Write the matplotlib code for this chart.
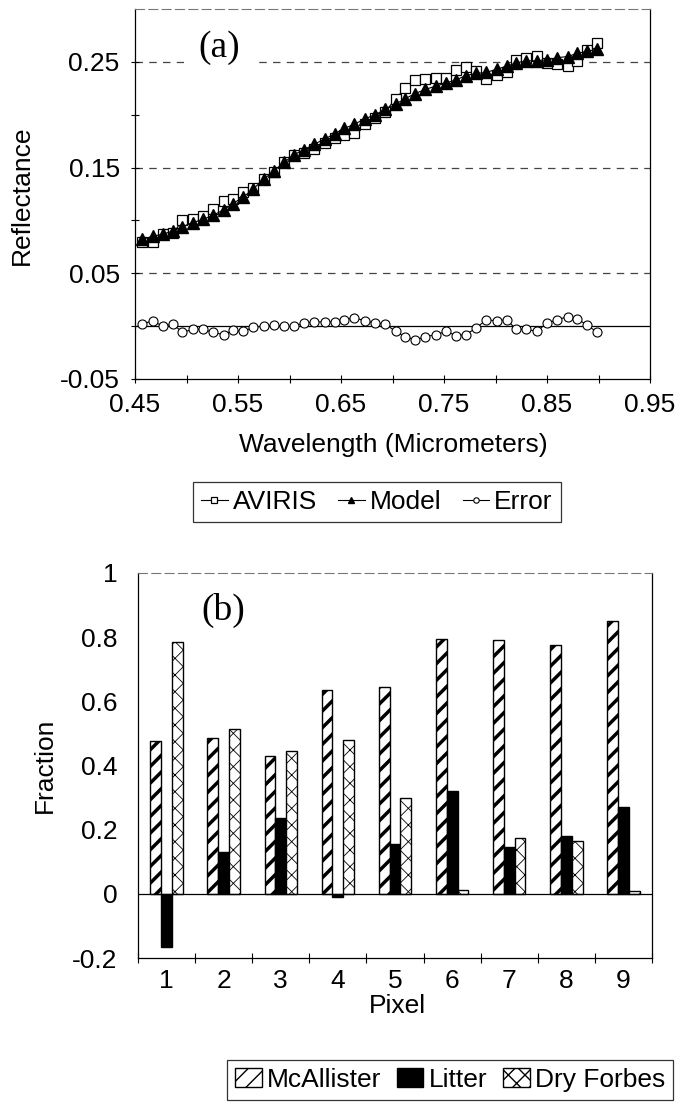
import matplotlib
matplotlib.use("Agg")
import matplotlib.pyplot as plt
import numpy as np

plt.rcParams["font.family"] = ["Liberation Sans", "DejaVu Sans"]

# (a) spectra: wavelength (um), AVIRIS reflectance, model reflectance, error
wavelength = [0.457, 0.467, 0.477, 0.487, 0.496, 0.506, 0.516, 0.526, 0.536, 0.545,
              0.555, 0.565, 0.575, 0.585, 0.595, 0.604, 0.614, 0.624, 0.634, 0.644,
              0.653, 0.663, 0.673, 0.683, 0.693, 0.703, 0.712, 0.722, 0.732, 0.742,
              0.752, 0.762, 0.771, 0.781, 0.791, 0.801, 0.811, 0.820, 0.830, 0.840,
              0.850, 0.860, 0.870, 0.879, 0.889, 0.899]
aviris = [0.080, 0.080, 0.087, 0.088, 0.100, 0.101, 0.104, 0.111, 0.118, 0.120,
          0.127, 0.131, 0.139, 0.146, 0.155, 0.162, 0.164, 0.168, 0.173, 0.178,
          0.181, 0.183, 0.191, 0.197, 0.203, 0.215, 0.225, 0.233, 0.234, 0.235,
          0.235, 0.242, 0.245, 0.241, 0.234, 0.238, 0.240, 0.252, 0.254, 0.256,
          0.249, 0.248, 0.246, 0.251, 0.261, 0.268]
model = [0.082, 0.085, 0.087, 0.090, 0.094, 0.098, 0.101, 0.105, 0.110, 0.116,
         0.122, 0.130, 0.139, 0.147, 0.155, 0.162, 0.167, 0.172, 0.177, 0.182,
         0.187, 0.191, 0.196, 0.200, 0.205, 0.210, 0.215, 0.220, 0.224, 0.227,
         0.230, 0.233, 0.237, 0.239, 0.240, 0.243, 0.246, 0.249, 0.251, 0.251,
         0.252, 0.254, 0.255, 0.258, 0.260, 0.262]
error = [0.002, 0.005, 0.000, 0.002, -0.006, -0.003, -0.003, -0.006, -0.008, -0.004,
         -0.005, -0.001, 0.000, 0.001, 0.000, 0.000, 0.003, 0.004, 0.004, 0.004,
         0.006, 0.008, 0.005, 0.003, 0.002, -0.005, -0.010, -0.013, -0.010, -0.008,
         -0.005, -0.009, -0.008, -0.002, 0.006, 0.005, 0.006, -0.003, -0.003, -0.005,
         0.003, 0.006, 0.009, 0.007, 0.001, -0.006]

# (b) fractions per pixel
pixels = [1, 2, 3, 4, 5, 6, 7, 8, 9]
mcallister = [0.475, 0.485, 0.43, 0.635, 0.645, 0.795, 0.79, 0.775, 0.85]
litter = [-0.165, 0.13, 0.235, -0.01, 0.155, 0.32, 0.145, 0.18, 0.27]
dry_forbes = [0.785, 0.515, 0.445, 0.48, 0.30, 0.012, 0.175, 0.165, 0.01]

W, H = 679, 1111
FS = 19
fig = plt.figure(figsize=(W / 100, H / 100), dpi=100)


def box(l, t, r, b):
    return [l / W, 1 - b / H, (r - l) / W, (b - t) / H]


# ---------------- panel (a) ----------------
ax1 = fig.add_axes(box(135, 9, 650, 379))
for y in [0.05, 0.15, 0.25]:
    ax1.axhline(y, color="#444444", lw=0.9, ls=(0, (6, 5)), zorder=1)
ax1.axhline(0, color="black", lw=0.9, zorder=2)

l_av, = ax1.plot(wavelength, aviris, "-", color="black", lw=0.8, marker="s", ms=7.5,
                 mfc="white", mec="black", mew=0.9, label="AVIRIS", zorder=3)
l_mo, = ax1.plot(wavelength, model, "-", color="black", lw=0.8, marker="^", ms=8,
                 mfc="black", mec="black", label="Model", zorder=4)
l_er, = ax1.plot(wavelength, error, "-", color="black", lw=0.8, marker="o", ms=6.5,
                 mfc="white", mec="black", mew=0.8, label="Error", zorder=3)

ax1.set_xlim(0.45, 0.95)
ax1.set_ylim(-0.05, 0.30)
ax1.set_xticks([0.45, 0.55, 0.65, 0.75, 0.85, 0.95])
ax1.set_xticklabels(["0.45", "0.55", "0.65", "0.75", "0.85", "0.95"], fontsize=FS)
ax1.set_xticks([0.5, 0.6, 0.7, 0.8, 0.9], minor=True)
ax1.set_yticks([-0.05, 0.05, 0.15, 0.25])
ax1.set_yticklabels(["-0.05", "0.05", "0.15", "0.25"], fontsize=FS)
ax1.set_yticks([0.0, 0.1, 0.2], minor=True)
ax1.tick_params(which="both", direction="inout", length=6, width=0.8, pad=8)
ax1.tick_params(axis="x", which="major", pad=7)
ax1.spines["top"].set_linestyle((0, (8, 4)))
ax1.spines["top"].set_color("#777777")
for s in ["left", "bottom", "right"]:
    ax1.spines[s].set_linewidth(0.9)

fig.text(219 / W, 1 - 48 / H, "(a)", fontsize=27, family="Liberation Serif",
         ha="center", va="center",
         bbox=dict(facecolor="white", edgecolor="none", pad=10))
fig.text(22 / W, 1 - 195 / H, "Reflectance", rotation=90, fontsize=FS,
         ha="center", va="center")
fig.text(393 / W, 1 - 445 / H, "Wavelength (Micrometers)", fontsize=FS,
         ha="center", va="center")

leg1 = fig.legend(handles=[l_av, l_mo, l_er], loc="center",
                  bbox_to_anchor=(377 / W, 1 - 502 / H), ncol=3, fontsize=FS,
                  frameon=True, fancybox=False, edgecolor="black",
                  handlelength=1.0, handletextpad=0.2, columnspacing=0.8,
                  borderpad=0.3, borderaxespad=0, markerscale=0.6)
leg1.get_frame().set_linewidth(0.9)

# ---------------- panel (b) ----------------
ax2 = fig.add_axes(box(138, 573, 652, 958))
x = np.array(pixels)
w = 0.19
with plt.rc_context({"hatch.linewidth": 2.5}):
    b1 = ax2.bar(x - w, mcallister, w, color="white", edgecolor="black", hatch="//",
                 lw=1.0, label="McAllister", zorder=3)
b2 = ax2.bar(x, litter, w, color="black", edgecolor="black", lw=1.0,
             label="Litter", zorder=3)
with plt.rc_context({"hatch.linewidth": 0.6}):
    b3 = ax2.bar(x + w, dry_forbes, w, color="white", edgecolor="black", hatch="xx",
                 lw=1.0, label="Dry Forbes", zorder=3)
for bars, hl in [(b1, 2.5), (b3, 0.6)]:
    for p in bars:
        try:
            p.set_hatch_linewidth(hl)
        except AttributeError:
            pass

ax2.axhline(0, color="black", lw=0.9, zorder=4)
ax2.set_xlim(0.5, 9.5)
ax2.set_ylim(-0.2, 1.0)
ax2.set_yticks([-0.2, 0, 0.2, 0.4, 0.6, 0.8, 1.0])
ax2.set_yticklabels(["-0.2", "0", "0.2", "0.4", "0.6", "0.8", "1"], fontsize=FS)
ax2.tick_params(axis="y", length=0, pad=15)
ax2.set_xticks(np.arange(0.5, 10, 1.0))
ax2.set_xticklabels([])
ax2.tick_params(axis="x", which="major", direction="inout", length=7, width=0.8)
ax2.set_xticks(x, minor=True)
ax2.set_xticklabels([str(p) for p in pixels], minor=True, fontsize=FS)
ax2.tick_params(axis="x", which="minor", length=0, pad=8)
ax2.spines["top"].set_linestyle((0, (8, 4)))
ax2.spines["top"].set_color("#777777")
for s in ["left", "bottom", "right"]:
    ax2.spines[s].set_linewidth(0.9)

fig.text(223 / W, 1 - 610 / H, "(b)", fontsize=27, family="Liberation Serif",
         ha="center", va="center")
fig.text(45 / W, 1 - 765 / H, "Fraction", rotation=90, fontsize=FS,
         ha="center", va="center")
fig.text(397 / W, 1 - 1006 / H, "Pixel", fontsize=FS, ha="center", va="center")

leg2 = fig.legend(handles=[b1, b2, b3], loc="center right",
                  bbox_to_anchor=(673 / W, 1 - 1080 / H), ncol=3, fontsize=FS,
                  frameon=True, fancybox=False, edgecolor="black",
                  handlelength=1.0, handleheight=0.75, handletextpad=0.2,
                  columnspacing=0.6, borderpad=0.3, borderaxespad=0)
leg2.get_frame().set_linewidth(0.9)

fig.savefig("out.png", dpi=100, facecolor="white")
